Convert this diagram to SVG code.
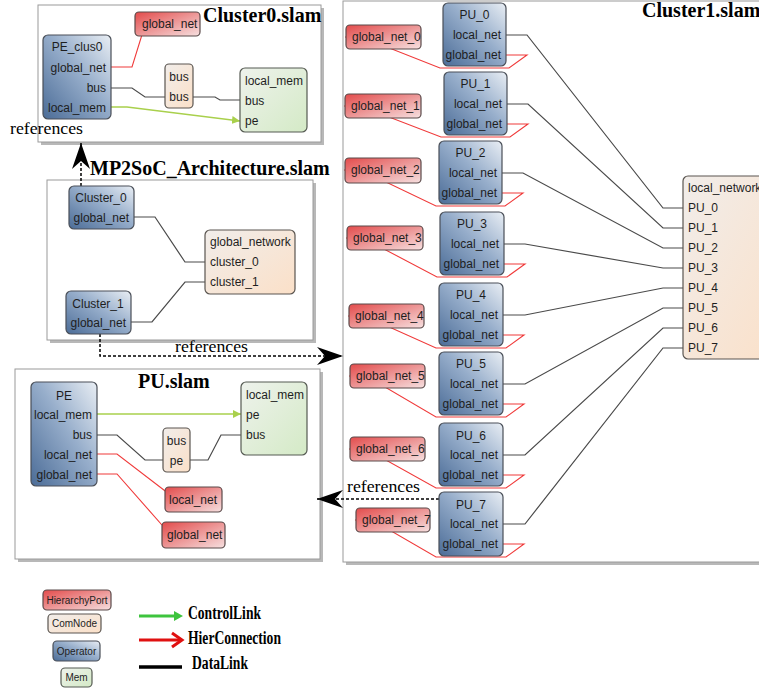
<svg xmlns="http://www.w3.org/2000/svg" width="759" height="688" viewBox="0 0 759 688">
<style>
.frame{fill:#fff;stroke:#9a9a9a;stroke-width:1}
.shadow{fill:#b8b8b8}
.op{fill:url(#gOp);stroke:#4a4f58;stroke-width:1.2}
.port{fill:url(#gPort);stroke:#5a4a4a;stroke-width:1.2}
.com{fill:url(#gCom);stroke:#5a5550;stroke-width:1.2}
.mem{fill:url(#gMem);stroke:#555a52;stroke-width:1.2}
text{font-family:"Liberation Sans",Arial,sans-serif;font-size:12px;fill:#1e1e1e}
.c{text-anchor:middle}
.r{text-anchor:end}
.title{font-family:"Liberation Serif","Times New Roman",serif;font-weight:bold;font-size:20px;fill:#000}
.ref{font-family:"Liberation Serif","Times New Roman",serif;font-size:17px;fill:#000}
.leg{font-family:"Liberation Serif","Times New Roman",serif;font-weight:bold;font-size:18px;fill:#000}
.small{font-size:10px}
.data{fill:none;stroke:#4a4a4a;stroke-width:1.2}
.hier{fill:none;stroke:#f03a3a;stroke-width:1.1}
.ctrl{fill:none;stroke:#a9d04c;stroke-width:1.3}
.dash{fill:none;stroke:#000;stroke-width:1.5;stroke-dasharray:3,2}
</style>
<defs>
<linearGradient id="gOp" x1="0" y1="1" x2="1" y2="0">
<stop offset="0" stop-color="#4b6c97"/><stop offset="0.55" stop-color="#97aecb"/><stop offset="1" stop-color="#e9eef4"/>
</linearGradient>
<linearGradient id="gPort" x1="0" y1="0" x2="1" y2="1">
<stop offset="0" stop-color="#e34b4b"/><stop offset="1" stop-color="#f6e0e0"/>
</linearGradient>
<linearGradient id="gCom" x1="0" y1="0" x2="1" y2="1">
<stop offset="0" stop-color="#f1edea"/><stop offset="1" stop-color="#fbe0c8"/>
</linearGradient>
<linearGradient id="gMem" x1="0" y1="0" x2="1" y2="1">
<stop offset="0" stop-color="#eef2ec"/><stop offset="1" stop-color="#d4eac6"/>
</linearGradient>
<marker id="stealth" viewBox="0 0 26 18" refX="26" refY="9" markerWidth="26" markerHeight="18" markerUnits="userSpaceOnUse" orient="auto">
<path d="M0,0 L26,9 L0,18 L8,9 Z" fill="#000"/>
</marker>
<marker id="garrow" viewBox="0 0 8 8" refX="8" refY="4" markerWidth="8" markerHeight="8" markerUnits="userSpaceOnUse" orient="auto">
<path d="M0,0 L8,4 L0,8 Z" fill="#a9d04c"/>
</marker>
</defs>

<!-- frames -->
<g id="frame-cluster0">
<rect class="shadow" x="41" y="8" width="283" height="137"/>
<rect class="frame" x="38" y="5" width="283" height="137"/>
<text class="title" x="203" y="22">Cluster0.slam</text>
</g>
<g id="frame-arch">
<rect class="shadow" x="50" y="183" width="266" height="160"/>
<rect class="frame" x="47" y="180" width="266" height="160"/>
<text class="title" x="90" y="175">MP2SoC_Architecture.slam</text>
</g>
<g id="frame-pu">
<rect class="shadow" x="18" y="372" width="305" height="190"/>
<rect class="frame" x="15" y="369" width="305" height="190"/>
<text class="title" x="138" y="388">PU.slam</text>
</g>
<g id="frame-cluster1">
<rect class="shadow" x="346" y="4" width="430" height="561"/>
<rect class="frame" x="343" y="1" width="430" height="561"/>
<text class="title" x="642" y="17">Cluster1.slam</text>
</g>

<!-- connectors -->
<g id="connectors">
<!-- Cluster0 -->
<polyline class="hier" points="111,67 132,67 145,25"/>
<line class="hier" x1="135" y1="24" x2="148" y2="24"/>
<polyline class="data" points="111,88 132,88 145,97 165,97"/>
<polyline class="data" points="193,97 215,97 220,100 240,100"/>
<polyline class="ctrl" points="111,107 127,107 240,121" marker-end="url(#garrow)"/>
<!-- Architecture -->
<polyline class="data" points="134,217 155,217 185,262 205,262"/>
<polyline class="data" points="131,322 152,322 185,282 205,282"/>
<!-- PU.slam -->
<line class="ctrl" x1="97" y1="414" x2="241" y2="414" marker-end="url(#garrow)"/>
<polyline class="data" points="97,435 117,435 145,460 163,460"/>
<polyline class="data" points="190,460 208,460 221,435 241,435"/>
<polyline class="hier" points="97,454 117,454 173,497"/>
<line class="hier" x1="165" y1="497" x2="175" y2="497"/>
<polyline class="hier" points="97,474 117,474 169,533"/>
<line class="hier" x1="162" y1="533" x2="171" y2="533"/>
<!-- Cluster1 data links -->
<polyline class="data" points="506,35 527,35 663,208 683,208"/>
<polyline class="data" points="507,104 528,104 663,228 683,228"/>
<polyline class="data" points="502,173 523,173 663,248 683,248"/>
<polyline class="data" points="504,244 525,244 663,268 683,268"/>
<polyline class="data" points="503,315 525,315 663,288 683,288"/>
<polyline class="data" points="503,384 525,384 663,308 683,308"/>
<polyline class="data" points="503,455 525,455 663,328 683,328"/>
<polyline class="data" points="503,524 525,524 663,348 683,348"/>
<!-- Cluster1 hier connections -->
<polyline class="hier" points="506,55 527,55 509,68 440,68 364,38 345,37"/>
<polyline class="hier" points="507,124 528,124 510,137 441,137 363,107 344,106"/>
<polyline class="hier" points="502,193 523,193 505,206 436,206 363,171 344,170"/>
<polyline class="hier" points="504,264 525,264 507,277 437,277 365,239 346,238"/>
<polyline class="hier" points="503,335 524,335 506,348 436,348 367,317 348,316"/>
<polyline class="hier" points="503,404 524,404 506,417 436,417 368,377 349,376"/>
<polyline class="hier" points="503,475 524,475 506,488 436,488 368,450 349,449"/>
<polyline class="hier" points="503,544 524,544 506,557 436,557 374,521 355,520"/>
<!-- references -->
<polyline class="dash" points="81,186 81,143" marker-end="url(#stealth)"/>
<polyline class="dash" points="100,334 100,356 343,356" marker-end="url(#stealth)"/>
<line class="dash" x1="439" y1="499" x2="317" y2="499" marker-end="url(#stealth)"/>
<text class="ref" x="10" y="134" textLength="73" lengthAdjust="spacingAndGlyphs">references</text>
<text class="ref" x="175" y="352" textLength="73" lengthAdjust="spacingAndGlyphs">references</text>
<text class="ref" x="347" y="492" textLength="73" lengthAdjust="spacingAndGlyphs">references</text>
</g>

<!-- Cluster0 nodes -->
<g id="c0-global_net"><rect class="port" x="135" y="12" width="65" height="24" rx="4"/><text x="142" y="28">global_net</text></g>
<g id="c0-PE_clus0"><rect class="op" x="43" y="35" width="68" height="84" rx="5"/>
<text class="c" x="77" y="51">PE_clus0</text><text class="r" x="106" y="72">global_net</text><text class="r" x="106" y="92">bus</text><text class="r" x="106" y="112">local_mem</text></g>
<g id="c0-bus"><rect class="com" x="165" y="64" width="28" height="44" rx="4"/><text class="c" x="179" y="81">bus</text><text class="c" x="179" y="101">bus</text></g>
<g id="c0-mem"><rect class="mem" x="240" y="68" width="67" height="64" rx="5"/><text x="245" y="85">local_mem</text><text x="245" y="105">bus</text><text x="245" y="125">pe</text></g>

<!-- Architecture nodes -->
<g id="arch-Cluster_0"><rect class="op" x="69" y="186" width="65" height="43" rx="5"/><text class="c" x="101" y="202">Cluster_0</text><text class="r" x="129" y="222">global_net</text></g>
<g id="arch-Cluster_1"><rect class="op" x="66" y="291" width="65" height="43" rx="5"/><text class="c" x="98" y="308">Cluster_1</text><text class="r" x="126" y="327">global_net</text></g>
<g id="arch-global_network"><rect class="com" x="205" y="230" width="90" height="64" rx="5"/><text x="210" y="246">global_network</text><text x="210" y="266">cluster_0</text><text x="210" y="286">cluster_1</text></g>

<!-- PU.slam nodes -->
<g id="pu-PE"><rect class="op" x="31" y="382" width="66" height="104" rx="5"/><text class="c" x="64" y="400">PE</text><text class="r" x="92" y="419">local_mem</text><text class="r" x="92" y="439">bus</text><text class="r" x="92" y="459">local_net</text><text class="r" x="92" y="479">global_net</text></g>
<g id="pu-bus"><rect class="com" x="163" y="428" width="27" height="44" rx="4"/><text class="c" x="176.5" y="445">bus</text><text class="c" x="176.5" y="465">pe</text></g>
<g id="pu-mem"><rect class="mem" x="241" y="382" width="66" height="73" rx="5"/><text x="246" y="399">local_mem</text><text x="246" y="419">pe</text><text x="246" y="439">bus</text></g>
<g id="pu-local_net"><rect class="port" x="165" y="487" width="57" height="25" rx="4"/><text x="169" y="504">local_net</text></g>
<g id="pu-global_net"><rect class="port" x="162" y="522" width="63" height="26" rx="4"/><text x="167" y="539">global_net</text></g>

<!-- Cluster1 nodes -->
<g id="c1-PU_0"><rect class="op" x="443" y="3" width="63" height="63" rx="5"/><text class="c" x="474.5" y="19">PU_0</text><text class="r" x="501" y="39">local_net</text><text class="r" x="501" y="59">global_net</text></g>
<g id="c1-PU_1"><rect class="op" x="444" y="72" width="63" height="63" rx="5"/><text class="c" x="475.5" y="88">PU_1</text><text class="r" x="502" y="108">local_net</text><text class="r" x="502" y="128">global_net</text></g>
<g id="c1-PU_2"><rect class="op" x="439" y="141" width="63" height="63" rx="5"/><text class="c" x="470.5" y="157">PU_2</text><text class="r" x="497" y="177">local_net</text><text class="r" x="497" y="197">global_net</text></g>
<g id="c1-PU_3"><rect class="op" x="440" y="212" width="64" height="63" rx="5"/><text class="c" x="472" y="228">PU_3</text><text class="r" x="499" y="248">local_net</text><text class="r" x="499" y="268">global_net</text></g>
<g id="c1-PU_4"><rect class="op" x="439" y="283" width="64" height="63" rx="5"/><text class="c" x="471" y="299">PU_4</text><text class="r" x="498" y="319">local_net</text><text class="r" x="498" y="339">global_net</text></g>
<g id="c1-PU_5"><rect class="op" x="439" y="352" width="64" height="63" rx="5"/><text class="c" x="471" y="368">PU_5</text><text class="r" x="498" y="388">local_net</text><text class="r" x="498" y="408">global_net</text></g>
<g id="c1-PU_6"><rect class="op" x="439" y="423" width="64" height="63" rx="5"/><text class="c" x="471" y="440">PU_6</text><text class="r" x="498" y="459">local_net</text><text class="r" x="498" y="479">global_net</text></g>
<g id="c1-PU_7"><rect class="op" x="439" y="492" width="64" height="64" rx="5"/><text class="c" x="471" y="509">PU_7</text><text class="r" x="498" y="528">local_net</text><text class="r" x="498" y="548">global_net</text></g>

<g id="c1-global_net_0"><rect class="port" x="346" y="25" width="75" height="24" rx="4"/><text x="352" y="41">global_net_0</text></g>
<g id="c1-global_net_1"><rect class="port" x="345" y="94" width="76" height="24" rx="4"/><text x="351" y="110">global_net_1</text></g>
<g id="c1-global_net_2"><rect class="port" x="345" y="158" width="76" height="25" rx="4"/><text x="351" y="174">global_net_2</text></g>
<g id="c1-global_net_3"><rect class="port" x="347" y="226" width="76" height="24" rx="4"/><text x="353" y="242">global_net_3</text></g>
<g id="c1-global_net_4"><rect class="port" x="349" y="304" width="75" height="24" rx="4"/><text x="355" y="320">global_net_4</text></g>
<g id="c1-global_net_5"><rect class="port" x="350" y="364" width="75" height="24" rx="4"/><text x="356" y="380">global_net_5</text></g>
<g id="c1-global_net_6"><rect class="port" x="350" y="437" width="75" height="24" rx="4"/><text x="356" y="453">global_net_6</text></g>
<g id="c1-global_net_7"><rect class="port" x="356" y="508" width="74" height="24" rx="4"/><text x="362" y="524">global_net_7</text></g>

<g id="c1-local_network"><rect class="com" x="683" y="176" width="100" height="183" rx="5"/>
<text x="688" y="192">local_network</text><text x="688" y="212">PU_0</text><text x="688" y="232">PU_1</text><text x="688" y="252">PU_2</text><text x="688" y="272">PU_3</text><text x="688" y="292">PU_4</text><text x="688" y="312">PU_5</text><text x="688" y="332">PU_6</text><text x="688" y="352">PU_7</text></g>

<!-- legend -->
<g id="legend">
<g id="leg-HierarchyPort"><rect class="port" x="43" y="590" width="68" height="20" rx="4"/><text class="c small" x="77" y="604">HierarchyPort</text></g>
<g id="leg-ComNode"><rect class="com" x="48" y="614" width="53" height="19" rx="4"/><text class="c small" x="74.5" y="627">ComNode</text></g>
<g id="leg-Operator"><rect class="op" x="53" y="641" width="47" height="20" rx="4"/><text class="c small" x="76.5" y="655">Operator</text></g>
<g id="leg-Mem"><rect class="mem" x="61" y="668" width="31" height="19" rx="4"/><text class="c small" x="76.5" y="681">Mem</text></g>
<line x1="139" y1="616" x2="176" y2="616" stroke="#3ec43e" stroke-width="3"/>
<path d="M174,611 L183,616 L174,621 Z" fill="#3ec43e"/>
<line x1="139" y1="640" x2="180" y2="640" stroke="#e01010" stroke-width="3"/>
<polyline points="172,633 182,640 172,647" fill="none" stroke="#e01010" stroke-width="3"/>
<line x1="139" y1="667" x2="182" y2="667" stroke="#000" stroke-width="3.5"/>
<text class="leg" x="188" y="619" textLength="73" lengthAdjust="spacingAndGlyphs">ControlLink</text>
<text class="leg" x="188" y="644" textLength="93" lengthAdjust="spacingAndGlyphs">HierConnection</text>
<text class="leg" x="192" y="669" textLength="56" lengthAdjust="spacingAndGlyphs">DataLink</text>
</g>
</svg>
